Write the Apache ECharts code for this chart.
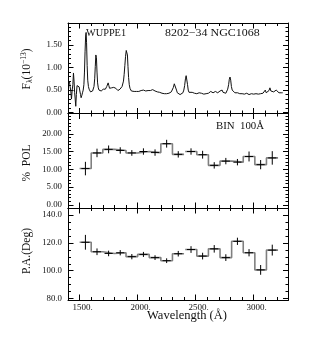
<!DOCTYPE html>
<html><head><meta charset="utf-8">
<script src="https://cdn.jsdelivr.net/npm/echarts@6/dist/echarts.min.js"></script>
<style>html,body{margin:0;padding:0;background:#fff}#c{width:314px;height:340px}</style>
</head><body><div id="c"></div><script>
// ---------- data ----------
const specWave = [1412,1418,1424,1430,1436,1442,1447,1452,1457,1462,1467,1472,1478,1484,1490,1496,1502,1508,1513,1519,1525,1531,1537,1542,1547,1552,1556,1560,1565,1570,1576,1582,1588,1594,1600,1606,1612,1618,1624,1630,1635,1640,1645,1650,1655,1661,1667,1673,1680,1686,1692,1698,1704,1710,1716,1722,1728,1734,1740,1746,1752,1758,1764,1770,1776,1782,1788,1794,1800,1806,1812,1818,1824,1830,1836,1842,1848,1854,1860,1866,1872,1878,1884,1890,1896,1902,1907,1912,1917,1922,1928,1934,1940,1946,1952,1960,1970,1980,1990,2000,2010,2020,2030,2040,2050,2060,2070,2080,2090,2100,2110,2120,2130,2140,2150,2160,2170,2180,2190,2200,2210,2220,2230,2240,2250,2260,2270,2280,2290,2300,2308,2316,2322,2328,2335,2342,2350,2358,2366,2374,2382,2390,2398,2405,2412,2418,2424,2430,2436,2443,2450,2460,2470,2480,2490,2500,2510,2520,2530,2540,2550,2560,2570,2580,2590,2600,2610,2620,2630,2640,2650,2660,2670,2680,2690,2700,2710,2720,2728,2736,2744,2752,2760,2768,2776,2784,2790,2796,2802,2808,2815,2822,2830,2838,2846,2854,2862,2870,2880,2890,2900,2910,2920,2930,2940,2950,2960,2970,2980,2990,3000,3010,3020,3030,3040,3050,3060,3070,3080,3090,3100,3108,3116,3124,3132,3140,3148,3156,3164,3172,3178,3186,3194,3202,3210,3218,3226,3234,3242,3250];
const specFlux = [0.70,0.58,0.48,0.30,0.50,0.62,0.88,0.70,0.45,0.30,0.14,0.40,0.60,0.58,0.62,0.57,0.48,0.40,0.33,0.38,0.44,0.50,0.62,0.90,1.35,1.70,1.78,1.55,1.05,0.72,0.58,0.52,0.48,0.46,0.47,0.50,0.48,0.52,0.58,0.75,1.02,1.28,1.22,0.90,0.66,0.55,0.50,0.47,0.50,0.48,0.46,0.49,0.52,0.50,0.49,0.52,0.55,0.58,0.62,0.66,0.60,0.54,0.51,0.53,0.55,0.52,0.54,0.56,0.55,0.57,0.54,0.52,0.50,0.49,0.51,0.50,0.52,0.54,0.56,0.58,0.62,0.70,0.85,1.05,1.25,1.38,1.40,1.28,1.02,0.78,0.62,0.54,0.50,0.48,0.47,0.46,0.47,0.48,0.47,0.48,0.47,0.48,0.49,0.48,0.50,0.49,0.48,0.50,0.49,0.50,0.49,0.50,0.51,0.49,0.48,0.47,0.46,0.45,0.45,0.44,0.43,0.42,0.42,0.41,0.42,0.42,0.43,0.44,0.46,0.50,0.56,0.64,0.66,0.60,0.50,0.44,0.43,0.42,0.40,0.39,0.41,0.44,0.50,0.60,0.75,0.82,0.78,0.62,0.50,0.45,0.44,0.43,0.45,0.44,0.43,0.44,0.42,0.43,0.44,0.42,0.43,0.42,0.41,0.43,0.42,0.44,0.43,0.45,0.47,0.46,0.44,0.45,0.47,0.45,0.44,0.46,0.48,0.52,0.50,0.45,0.43,0.41,0.43,0.46,0.52,0.62,0.74,0.79,0.72,0.58,0.50,0.48,0.47,0.44,0.43,0.42,0.44,0.43,0.42,0.44,0.42,0.43,0.41,0.42,0.43,0.41,0.40,0.41,0.42,0.40,0.41,0.43,0.42,0.44,0.41,0.43,0.42,0.45,0.43,0.47,0.50,0.44,0.42,0.46,0.49,0.55,0.48,0.44,0.50,0.46,0.42,0.45,0.50,0.53,0.47,0.44,0.48,0.45,0.44,0.44];

const binWidth = 100;
const binCenters1 = [1550,1650,1750,1850,1950,2050,2150,2250,2350];
const binCenters2 = [2460,2560,2660,2760,2860,2960,3060,3160];
const polValues1 = [10.2,14.6,15.6,15.3,14.6,15.0,14.7,17.2,14.2];
const polValues2 = [15.0,14.1,11.1,12.3,12.0,13.6,11.3,13.2];
const polErr1 = [1.9,1.2,1.1,0.9,0.8,0.9,0.9,1.1,0.9];
const polErr2 = [0.9,1.1,0.9,0.9,0.9,1.4,1.3,1.9];
const paValues1 = [120.4,113.6,112.4,112.9,110.1,111.7,109.4,107.2,112.2];
const paValues2 = [115.2,110.5,115.7,109.4,121.1,112.9,100.6,114.8];
const paErr1 = [5.3,2.4,2.0,1.9,1.9,1.8,1.7,1.7,2.0];
const paErr2 = [2.4,2.4,2.7,2.4,2.6,2.6,3.5,3.9];

const xTickLabels = [1500,2000,2500,3000];
const fluxTicks = [0,0.5,1.0,1.5];
const polTicks = [0,5,10,15,20];
const paTicks = [80,100,120,140];

// ---------- helpers ----------
const X_MIN = 1400, X_MAX = 3300;
const FONT = 'Liberation Serif';
function range(a, b, s){ const r=[]; for(let v=a; v<=b+1e-9; v+=s) r.push(Math.round(v*100)/100); return r; }
const xMinor = range(1400,3300,100).filter(v => xTickLabels.indexOf(v) < 0);
const yRanges = [[-0.02,1.99],[-0.9,25.7],[79,145]];
const yMajor = [fluxTicks, polTicks, paTicks];
const yMinor = [range(0,1.9,0.1), range(0,25,1), range(80,145,5)].map((a,i)=>a.filter(v=>!yMajor[i].some(m=>Math.abs(m-v)<1e-6)));
const yFmt = [v=>v.toFixed(2), v=>v.toFixed(2), v=>v.toFixed(1)];

const gridBoxes = [{top:23,height:90.5},{top:113.5,height:94.5},{top:208,height:92}];
const grid = gridBoxes.map(g=>({left:68, width:220.5, top:g.top, height:g.height, containLabel:false, outerBoundsMode:'none'}));

const MAJ = 5.5, MIN = 3;
const xAxis = [], yAxis = [];
function tick(len, vals){ return {show:true, inside:true, length:len, customValues:vals, lineStyle:{color:'#000', width:1}}; }
gridBoxes.forEach((g, i) => {
  const lab = {show:false};
  xAxis.push({type:'value', gridIndex:i, min:X_MIN, max:X_MAX, position:'bottom',
    axisLine:{show:true, onZero:false, lineStyle:{color:'#000', width:1}},
    axisTick:tick(MAJ, xTickLabels),
    axisLabel: i===2 ? {show:true, customValues:xTickLabels, formatter:v=>v+'.', fontFamily:FONT, fontSize:9, color:'#111', margin:3, padding:[0,0,0,6]} : lab,
    splitLine:{show:false}});
  xAxis.push({type:'value', gridIndex:i, min:X_MIN, max:X_MAX, position:'top',
    axisLine:{show:true, onZero:false, lineStyle:{color:'#000', width:1}},
    axisTick:tick(MAJ, xTickLabels), axisLabel:lab, splitLine:{show:false}});
  xAxis.push({type:'value', gridIndex:i, min:X_MIN, max:X_MAX, position:'bottom',
    axisLine:{show:false, onZero:false}, axisTick:tick(MIN, xMinor), axisLabel:lab, splitLine:{show:false}});
  xAxis.push({type:'value', gridIndex:i, min:X_MIN, max:X_MAX, position:'top',
    axisLine:{show:false, onZero:false}, axisTick:tick(MIN, xMinor), axisLabel:lab, splitLine:{show:false}});

  const [lo, hi] = yRanges[i];
  yAxis.push({type:'value', gridIndex:i, min:lo, max:hi, position:'left',
    axisLine:{show:true, onZero:false, lineStyle:{color:'#000', width:1}},
    axisTick:tick(MAJ, yMajor[i]),
    axisLabel:{show:true, customValues:yMajor[i], formatter:yFmt[i], fontFamily:FONT, fontSize:8.8, color:'#111', margin:6},
    splitLine:{show:false}});
  yAxis.push({type:'value', gridIndex:i, min:lo, max:hi, position:'right',
    axisLine:{show:true, onZero:false, lineStyle:{color:'#000', width:1}},
    axisTick:tick(MAJ, yMajor[i]), axisLabel:lab, splitLine:{show:false}});
  yAxis.push({type:'value', gridIndex:i, min:lo, max:hi, position:'left',
    axisLine:{show:false, onZero:false}, axisTick:tick(MIN, yMinor[i]), axisLabel:lab, splitLine:{show:false}});
  yAxis.push({type:'value', gridIndex:i, min:lo, max:hi, position:'right',
    axisLine:{show:false, onZero:false}, axisTick:tick(MIN, yMinor[i]), axisLabel:lab, splitLine:{show:false}});
});

function stepData(centers, values){
  const d = [];
  centers.forEach((c, k) => { d.push([c - binWidth/2, values[k]]); d.push([c + binWidth/2, values[k]]); });
  return d;
}
function crossData(centers, values, errs){ return centers.map((c,k)=>[c, values[k], errs[k]]); }
const CROSS_HALF = 35;
function crossRender(params, api){
  const c = api.value(0), v = api.value(1), e = api.value(2);
  const a = api.coord([c - CROSS_HALF, v]), b = api.coord([c + CROSS_HALF, v]);
  const p = api.coord([c, v - e]), q = api.coord([c, v + e]);
  const st = {stroke:'#000', lineWidth:1};
  return {type:'group', children:[
    {type:'line', shape:{x1:a[0], y1:a[1], x2:b[0], y2:b[1]}, style:st},
    {type:'line', shape:{x1:p[0], y1:p[1], x2:q[0], y2:q[1]}, style:st}
  ]};
}
function stepSeries(gi, centers, values){
  return {type:'line', xAxisIndex:gi*4, yAxisIndex:gi*4, data:stepData(centers, values), symbol:'none',
    lineStyle:{color:'#808080', width:1.6}, animation:false, silent:true, z:2};
}
function crossSeries(gi, centers, values, errs){
  return {type:'custom', xAxisIndex:gi*4, yAxisIndex:gi*4, data:crossData(centers, values, errs),
    renderItem:crossRender, animation:false, silent:true, z:3};
}

const series = [
  {type:'line', xAxisIndex:0, yAxisIndex:0, data:specWave.map((w,k)=>[w, specFlux[k]]), symbol:'none',
   lineStyle:{color:'#111', width:1}, animation:false, silent:true},
  stepSeries(1, binCenters1, polValues1), stepSeries(1, binCenters2, polValues2),
  crossSeries(1, binCenters1, polValues1, polErr1), crossSeries(1, binCenters2, polValues2, polErr2),
  stepSeries(2, binCenters1, paValues1), stepSeries(2, binCenters2, paValues2),
  crossSeries(2, binCenters1, paValues1, paErr1), crossSeries(2, binCenters2, paValues2, paErr2)
];

const txt = (x, y, text, size, extra) => Object.assign({type:'text', x:x, y:y, silent:true,
  style:{text:text, fontFamily:FONT, fontSize:size, fill:'#111', align:'left', verticalAlign:'middle'}}, extra||{});

const graphic = [
  txt(86, 33, 'WUPPE1', 10.3),
  txt(165, 33, '8202\u221234 NGC1068', 10.3, {scaleX:1.16}),
  txt(216, 126, 'BIN  100\u00C5', 10.3, {scaleX:1.05}),
  {type:'text', x:27, y:69, rotation:Math.PI/2, silent:true,
   style:{text:'{n|F}{s|\u03BB}{n|(10}{p|\u221213}{n|)}', align:'center', verticalAlign:'middle', fill:'#111',
     rich:{n:{fontFamily:FONT, fontSize:11.5, lineHeight:14, verticalAlign:'middle'},
           s:{fontFamily:FONT, fontSize:7.5, lineHeight:14, verticalAlign:'bottom'},
           p:{fontFamily:FONT, fontSize:7.5, lineHeight:14, verticalAlign:'top'}}}},
  {type:'text', x:27, y:163, rotation:Math.PI/2, silent:true,
   style:{text:'%  POL', fontFamily:FONT, fontSize:11.5, fill:'#111', align:'center', verticalAlign:'middle'}},
  {type:'text', x:27, y:251, rotation:Math.PI/2, silent:true,
   style:{text:'P.A.(Deg)', fontFamily:FONT, fontSize:11.5, fill:'#111', align:'center', verticalAlign:'middle'}},
  {type:'text', x:187, y:316, silent:true,
   style:{text:'Wavelength (\u00C5)', fontFamily:FONT, fontSize:12.5, fill:'#111', align:'center', verticalAlign:'middle'}}
];

const chart = echarts.init(document.getElementById('c'), null, {renderer:'canvas'});
chart.setOption({animation:false, backgroundColor:'#fff', grid:grid, xAxis:xAxis, yAxis:yAxis, series:series, graphic:graphic});
</script></body></html>
